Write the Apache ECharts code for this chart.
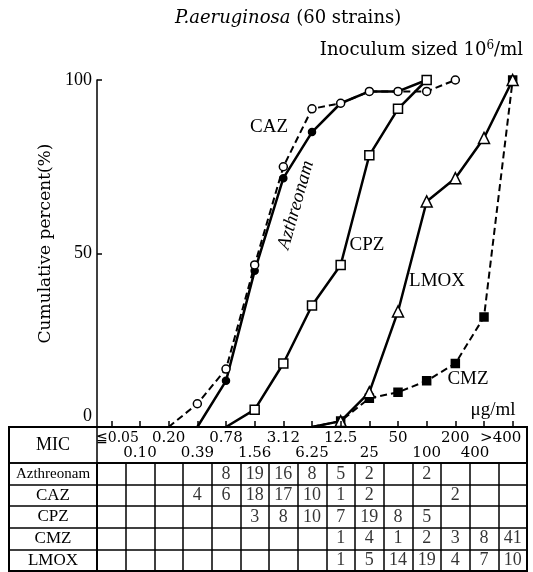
<!DOCTYPE html>
<html>
<head>
<meta charset="utf-8">
<script src="https://cdn.jsdelivr.net/npm/echarts@6/dist/echarts.min.js"></script>
<style>
html, body { margin: 0; padding: 0; background: #fff; }
#chart { width: 533px; height: 572px; }
</style>
</head>
<body>
<div id="chart"></div>
<script>
var micLabels = ['≦0.05', '0.10', '0.20', '0.39', '0.78', '1.56', '3.12', '6.25', '12.5', '25', '50', '100', '200', '400', '>400'];
var drugNames = ['Azthreonam', 'CAZ', 'CPZ', 'CMZ', 'LMOX'];

// number of strains in each MIC column (table rows)
var aztCounts = [null, null, null, null, 8, 19, 16, 8, 5, 2, null, 2, null, null, null];
var cazCounts = [null, null, null, 4, 6, 18, 17, 10, 1, 2, null, null, 2, null, null];
var cpzCounts = [null, null, null, null, null, 3, 8, 10, 7, 19, 8, 5, null, null, null];
var cmzCounts = [null, null, null, null, null, null, null, null, 1, 4, 1, 2, 3, 8, 41];
var lmoxCounts = [null, null, null, null, null, null, null, null, 1, 5, 14, 19, 4, 7, 10];

// cumulative percent
var aztPercent = [null, null, null, 0, 13.3, 45, 71.7, 85, 93.3, 96.7, 96.7, 100, null, null, null];
var cazPercent = [null, null, 0, 6.7, 16.7, 46.7, 75, 91.7, 93.3, 96.7, 96.7, 96.7, 100, null, null];
var cpzPercent = [null, null, null, null, 0, 5, 18.3, 35, 46.7, 78.3, 91.7, 100, null, null, null];
var cmzPercent = [null, null, null, null, null, null, null, 0, 1.7, 8.3, 10, 13.3, 18.3, 31.7, 100];
var lmoxPercent = [null, null, null, null, null, null, null, 0, 1.7, 10, 33.3, 65, 71.7, 83.3, 100];

var SERIF = '"Liberation Serif", "DejaVu Serif", serif';
var WIDE = '"DejaVu Serif", serif';

var chart = echarts.init(document.getElementById('chart'));

// curve starts at 0 without a marker
var lineData = function (arr) {
    return arr.map(function (v) {
        return v === 0 ? { value: v, symbol: 'none' } : v;
    });
};

var cellData = function () {
    var rows = [aztCounts, cazCounts, cpzCounts, cmzCounts, lmoxCounts];
    var out = [];
    rows.forEach(function (row, r) {
        row.forEach(function (v, c) {
            if (v !== null) {
                out.push([micLabels[c], drugNames[r], v]);
            }
        });
    });
    return out;
};

var curve = function (name, data, symbol, size, filled, dashed) {
    return {
        name: name,
        type: 'line',
        xAxisIndex: 0,
        yAxisIndex: 0,
        data: lineData(data),
        symbol: symbol,
        symbolSize: size,
        showAllSymbol: true,
        itemStyle: {
            color: filled ? '#000' : '#fff',
            borderColor: '#000',
            borderWidth: 1.5
        },
        lineStyle: {
            color: '#000',
            width: dashed ? 2 : 2.5,
            type: dashed ? [7, 4] : 'solid'
        },
        emphasis: { disabled: true },
        z: 3
    };
};

var hiddenX = function (idx) {
    return { type: 'value', gridIndex: idx, show: false };
};

var box = function (pos) {
    pos.outerBoundsMode = 'none';
    return pos;
};

// staggered MIC labels, the two end ones nudged into their cells
var micFormatter = function (v, i) {
    var s = v;
    if (i === 0) s = '{l|' + v + '}';
    if (i === 13) s = '{r|' + v + '}';
    if (i === 14) s = '{rr|' + v + '}';
    return i % 2 === 0 ? s + '\n' : '\n' + s;
};

var option = {
    animation: false,
    backgroundColor: '#fff',
    title: [{
        text: '{i|P.aeruginosa} (60 strains)',
        left: 170,
        top: 4,
        textStyle: {
            fontFamily: WIDE,
            fontSize: 18,
            fontWeight: 'normal',
            color: '#000',
            rich: {
                i: { fontFamily: WIDE, fontStyle: 'italic', fontSize: 18, color: '#000' }
            }
        }
    }, {
        text: 'Inoculum sized 10{s|6}/ml',
        right: 5,
        top: 35,
        textStyle: {
            fontFamily: WIDE,
            fontSize: 18,
            fontWeight: 'normal',
            color: '#000',
            rich: {
                s: { fontFamily: WIDE, fontSize: 12, color: '#000', padding: [0, 0, 9, 0] }
            }
        }
    }],
    grid: [
        box({ left: 97, right: 6, top: 80, bottom: 145 }),
        box({ left: 97, right: 6, top: 427, height: 36, show: true, borderColor: '#000', borderWidth: 1.5 }),
        box({ left: 9, right: 6, top: 427, bottom: 1, show: true, borderColor: '#000', borderWidth: 2 }),
        box({ left: 97, right: 6, top: 463, bottom: 1, show: true, borderColor: '#000', borderWidth: 1.5 }),
        box({ left: 9, width: 88, top: 463, bottom: 1, show: true, borderColor: '#000', borderWidth: 1.5 })
    ],
    xAxis: [{
        type: 'category',
        gridIndex: 0,
        data: micLabels,
        boundaryGap: true,
        z: 5,
        axisLine: { lineStyle: { color: '#000', width: 1.5 } },
        axisTick: { show: true, alignWithLabel: true, inside: true, length: 6, interval: 0, lineStyle: { color: '#000', width: 1.5 } },
        axisLabel: {
            interval: 0,
            margin: 4,
            color: '#000',
            fontFamily: WIDE,
            fontSize: 15,
            lineHeight: 15,
            formatter: micFormatter,
            rich: {
                l: { fontFamily: WIDE, fontSize: 14, color: '#000', padding: [0, 0, 0, 12] },
                r: { fontFamily: WIDE, fontSize: 15, color: '#000', padding: [0, 18, 0, 0] },
                rr: { fontFamily: WIDE, fontSize: 15, color: '#000', padding: [0, 24, 0, 0] }
            }
        },
        splitLine: { show: false }
    },
    hiddenX(1), hiddenX(2),
    {
        type: 'category',
        gridIndex: 3,
        data: micLabels,
        axisLine: { show: false },
        axisTick: { show: false },
        axisLabel: { show: false },
        splitLine: { show: true, interval: 0, lineStyle: { color: '#000', width: 1.5 } }
    },
    hiddenX(4)],
    yAxis: [{
        type: 'value',
        gridIndex: 0,
        min: 0,
        max: 100,
        interval: 50,
        name: 'Cumulative percent(%)',
        nameLocation: 'middle',
        nameGap: 42,
        nameTextStyle: { fontFamily: WIDE, fontSize: 17, color: '#000', padding: [0, 0, 0, 20] },
        axisLine: { show: true, lineStyle: { color: '#000', width: 1.5 } },
        axisTick: { show: true, inside: true, length: 5, lineStyle: { color: '#000', width: 1.5 } },
        axisLabel: {
            color: '#000',
            fontFamily: SERIF,
            fontSize: 18,
            margin: 5,
            formatter: function (v) {
                return v === 0 ? '{z|0}' : v;
            },
            rich: {
                z: { fontFamily: SERIF, fontSize: 18, color: '#000', padding: [0, 0, 22, 0] }
            }
        },
        splitLine: { show: false }
    }, {
        type: 'category',
        gridIndex: 1,
        data: ['MIC'],
        axisLine: { show: false },
        axisTick: { show: false },
        axisLabel: { margin: 44, align: 'center', color: '#000', fontFamily: SERIF, fontSize: 18 }
    }, {
        type: 'category',
        gridIndex: 2,
        show: false
    }, {
        type: 'category',
        gridIndex: 3,
        data: drugNames,
        inverse: true,
        axisLine: { show: false },
        axisTick: { show: false },
        axisLabel: {
            interval: 0,
            margin: 44,
            align: 'center',
            color: '#000',
            fontFamily: SERIF,
            fontSize: 17,
            formatter: function (v) {
                return v === 'Azthreonam' ? '{n|' + v + '}' : v;
            },
            rich: {
                n: { fontFamily: SERIF, fontSize: 15, color: '#000' }
            }
        },
        splitLine: { show: true, interval: 0, lineStyle: { color: '#000', width: 1.5 } }
    }, {
        type: 'category',
        gridIndex: 4,
        data: drugNames,
        inverse: true,
        axisLine: { show: false },
        axisTick: { show: false },
        axisLabel: { show: false },
        splitLine: { show: true, interval: 0, lineStyle: { color: '#000', width: 1.5 } }
    }],
    series: [
        curve('Azthreonam', aztPercent, 'circle', 7, true, false),
        curve('CAZ', cazPercent, 'circle', 8, false, true),
        curve('CPZ', cpzPercent, 'rect', 9, false, false),
        curve('CMZ', cmzPercent, 'rect', 8, true, true),
        curve('LMOX', lmoxPercent, 'triangle', 11, false, false),
        {
            type: 'scatter',
            xAxisIndex: 3,
            yAxisIndex: 3,
            data: cellData(),
            symbolSize: 1,
            itemStyle: { color: 'rgba(0,0,0,0)' },
            label: {
                show: true,
                position: 'inside',
                color: '#000',
                fontFamily: SERIF,
                fontSize: 18,
                formatter: function (p) { return p.value[2]; }
            },
            emphasis: { disabled: true }
        }
    ],
    graphic: [
        { type: 'text', x: 269, y: 127, style: { text: 'CAZ', font: '19px ' + SERIF, fill: '#000', align: 'center', verticalAlign: 'middle' } },
        { type: 'text', x: 296, y: 205, rotation: 74 * Math.PI / 180, style: { text: 'Azthreonam', font: 'italic 19px ' + SERIF, fill: '#000', align: 'center', verticalAlign: 'middle' } },
        { type: 'text', x: 367, y: 245, style: { text: 'CPZ', font: '19px ' + SERIF, fill: '#000', align: 'center', verticalAlign: 'middle' } },
        { type: 'text', x: 437, y: 281, style: { text: 'LMOX', font: '19px ' + SERIF, fill: '#000', align: 'center', verticalAlign: 'middle' } },
        { type: 'text', x: 468, y: 379, style: { text: 'CMZ', font: '19px ' + SERIF, fill: '#000', align: 'center', verticalAlign: 'middle' } },
        { type: 'text', x: 493, y: 410, style: { text: 'μg/ml', font: '19px ' + SERIF, fill: '#000', align: 'center', verticalAlign: 'middle' } }
    ]
};

chart.setOption(option);
</script>
</body>
</html>
